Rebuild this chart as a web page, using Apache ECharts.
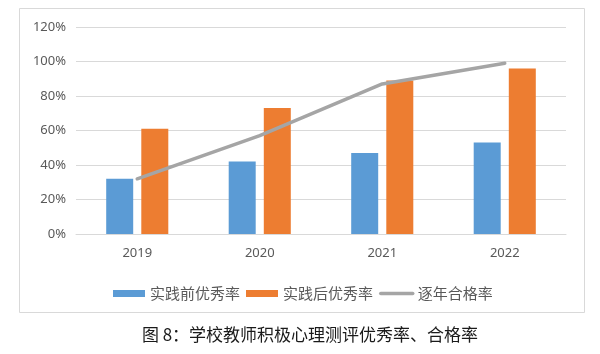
<!DOCTYPE html>
<html>
<head>
<meta charset="utf-8">
<script src="https://cdn.jsdelivr.net/npm/echarts@6/dist/echarts.min.js"></script>
<style>
html,body{margin:0;padding:0;background:#fff;}
#chart{width:600px;height:354px;}
</style>
</head>
<body>
<div id="chart"></div>
<script>
const categories = ['2019', '2020', '2021', '2022'];
const beforeExcellent = [32, 42, 47, 53];
const afterExcellent = [61, 73, 89, 96];
const passRate = [32, 57, 87, 99];
const seriesNames = ['实践前优秀率', '实践后优秀率', '逐年合格率'];
const yTicks = { min: 0, max: 120, interval: 20 };
const caption = '图 8：学校教师积极心理测评优秀率、合格率';

const chart = echarts.init(document.getElementById('chart'), null, { renderer: 'canvas' });
const labelFont = '"Noto Sans", "Noto Sans CJK SC", sans-serif';
chart.setOption({
  animation: false,
  backgroundColor: '#fff',
  textStyle: { fontFamily: labelFont },
  graphic: [
    {
      type: 'rect',
      shape: { x: 19.5, y: 8.5, width: 565, height: 304 },
      style: { fill: 'none', stroke: '#d9d9d9', lineWidth: 1 },
      silent: true
    },
    {
      type: 'text',
      x: 310, y: 335,
      style: {
        text: caption,
        fill: '#1a1a1a',
        font: '17px "Noto Sans CJK SC", serif',
        textAlign: 'center',
        textVerticalAlign: 'middle'
      }
    }
  ],
  grid: { left: 76, right: 34, top: 27, bottom: 120, containLabel: false },
  legend: {
    left: 108,
    top: 281,
    itemWidth: 32,
    itemHeight: 7,
    itemGap: 6,
    textStyle: { fontSize: 15, color: '#595959', fontFamily: '"Noto Sans CJK SC", sans-serif' },
    data: [
      { name: seriesNames[0], icon: 'rect' },
      { name: seriesNames[1], icon: 'rect' },
      { name: seriesNames[2], itemStyle: { opacity: 0 }, lineStyle: { width: 3.5, color: '#a5a5a5' } }
    ]
  },
  xAxis: {
    type: 'category',
    data: categories,
    axisLine: { lineStyle: { color: '#d9d9d9' } },
    axisTick: { show: false },
    axisLabel: { color: '#595959', fontSize: 13, margin: 13 }
  },
  yAxis: {
    type: 'value',
    min: yTicks.min,
    max: yTicks.max,
    interval: yTicks.interval,
    axisLine: { show: false },
    axisTick: { show: false },
    splitLine: { lineStyle: { color: '#d9d9d9' } },
    axisLabel: { color: '#595959', fontSize: 13, margin: 10, formatter: '{value}%' }
  },
  series: [
    {
      name: seriesNames[0],
      type: 'bar',
      data: beforeExcellent,
      barWidth: 27,
      barGap: '30%',
      itemStyle: { color: '#5b9bd5' }
    },
    {
      name: seriesNames[1],
      type: 'bar',
      data: afterExcellent,
      barWidth: 27,
      barGap: '30%',
      itemStyle: { color: '#ed7d31' }
    },
    {
      name: seriesNames[2],
      type: 'line',
      data: passRate,
      symbol: 'none',
      z: 5,
      lineStyle: { color: '#a5a5a5', width: 3.5, cap: 'round' },
      itemStyle: { color: '#a5a5a5' }
    }
  ]
});
</script>
</body>
</html>
